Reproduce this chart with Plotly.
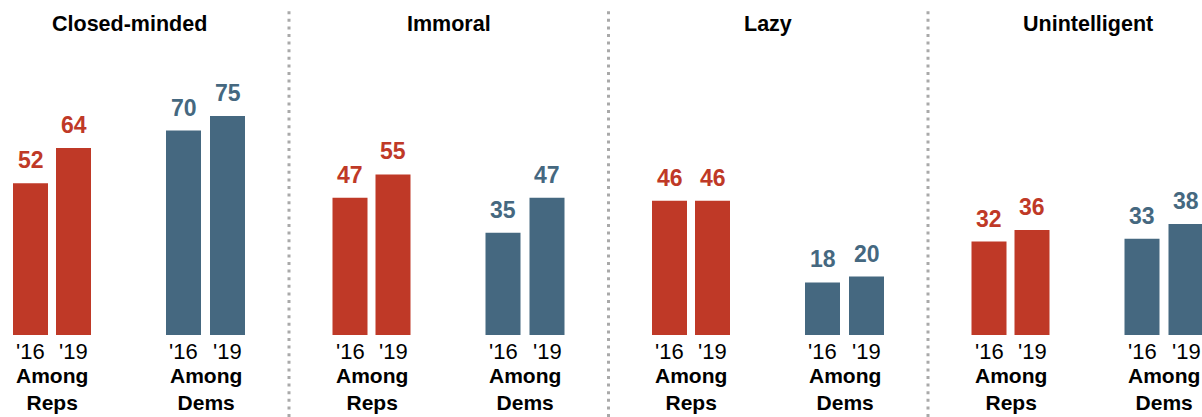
import plotly.graph_objects as go

traits = ["Closed-minded", "Immoral", "Lazy", "Unintelligent"]
groups = ["Among<br>Reps", "Among<br>Dems"]
years = ["'16", "'19"]
reps_16 = [52, 47, 46, 32]
reps_19 = [64, 55, 46, 36]
dems_16 = [70, 35, 18, 33]
dems_19 = [75, 47, 20, 38]

RED = "#bf3927"
BLUE = "#456880"
FONT = "Liberation Sans, Arial, sans-serif"

W, H = 1202, 417
PANEL = 319.5
OFFS = {("Reps", 0): 30.5, ("Reps", 1): 73.5, ("Dems", 0): 183.5, ("Dems", 1): 227.5}
BARW = 35
PXU = 2.92
BASE = 335

fig = go.Figure()
annotations = []
shapes = []

series = [("Reps", 0, reps_16, RED), ("Reps", 1, reps_19, RED),
          ("Dems", 0, dems_16, BLUE), ("Dems", 1, dems_19, BLUE)]

for grp, yi, vals, col in series:
    xs = [p * PANEL + OFFS[(grp, yi)] for p in range(len(traits))]
    fig.add_trace(go.Bar(x=xs, y=vals, width=BARW, marker=dict(color=col, line=dict(width=0)),
                         showlegend=False, hoverinfo="skip"))
    for x, v in zip(xs, vals):
        annotations.append(dict(x=x, y=v, xref="x", yref="y", text=f"<b>{v}</b>", showarrow=False,
                                yanchor="bottom", yshift=8, font=dict(family=FONT, size=23, color=col)))
        annotations.append(dict(x=x, y=0, xref="x", yref="y", text=years[yi], showarrow=False,
                                yanchor="middle", yshift=-16, font=dict(family=FONT, size=22, color="#000")))

for p, t in enumerate(traits):
    cx = p * PANEL + (OFFS[("Reps", 0)] + OFFS[("Dems", 1)]) / 2
    annotations.append(dict(x=cx, y=(H - 24) / H, xref="x", yref="paper", text=f"<b>{t}</b>",
                            showarrow=False, yanchor="middle",
                            font=dict(family=FONT, size=21.5, color="#000")))
    for gi, g in enumerate(groups):
        key = "Reps" if gi == 0 else "Dems"
        gx = p * PANEL + (OFFS[(key, 0)] + OFFS[(key, 1)]) / 2
        annotations.append(dict(x=gx, y=0, xref="x", yref="y", text=f"<b>{g}</b>", showarrow=False,
                                yanchor="top", yshift=-27, font=dict(family=FONT, size=21, color="#000")))
    if p < len(traits) - 1:
        sx = 289 + p * PANEL
        shapes.append(dict(type="line", xref="x", yref="paper", x0=sx, x1=sx, y0=0, y1=(H - 9) / H,
                           line=dict(color="#a9a9a9", width=3, dash="3px,4.6px")))

ymin = -(H - BASE) / PXU
ymax = BASE / PXU

fig.update_layout(
    width=W, height=H, margin=dict(l=0, r=0, t=0, b=0),
    paper_bgcolor="white", plot_bgcolor="white",
    barmode="overlay",
    xaxis=dict(range=[0, W], visible=False, fixedrange=True),
    yaxis=dict(range=[ymin, ymax], visible=False, fixedrange=True),
    annotations=annotations, shapes=shapes,
)

fig.write_html("out.html", config={"displayModeBar": False},
               post_script="document.body.style.margin='0';document.body.style.overflow='hidden';")
